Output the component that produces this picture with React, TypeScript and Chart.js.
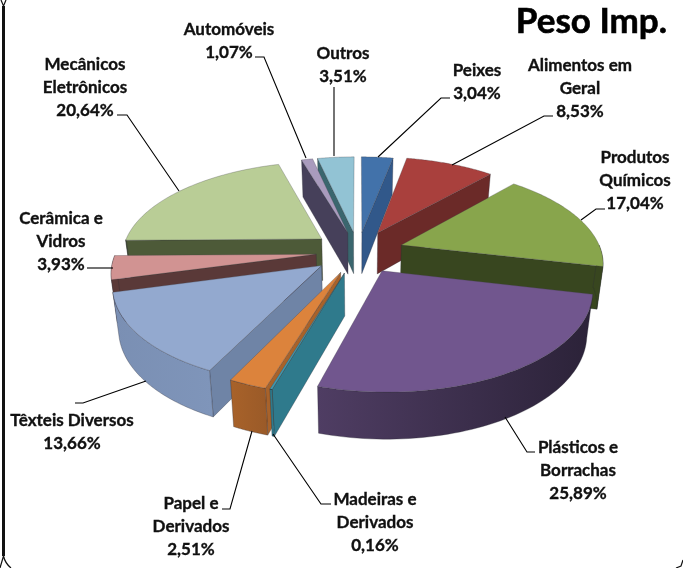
import React, { useEffect, useRef } from "react";
import { Chart, registerables } from "chart.js";

Chart.register(...registerables);

const categories = ["Peixes", "Alimentos em Geral", "Produtos Químicos", "Plásticos e Borrachas", "Madeiras e Derivados", "Papel e Derivados", "Têxteis Diversos", "Cerâmica e Vidros", "Mecânicos Eletrônicos", "Automóveis", "Outros"];
const shares = [3.04, 8.53, 17.04, 25.89, 0.16, 2.51, 13.66, 3.93, 20.64, 1.07, 3.51];
const topColors = ["#4272AA", "#A9403D", "#88A54C", "#71568E", "#3F97AF", "#DC833C", "#93A9CF", "#D19392", "#B9CD96", "#A99BBD", "#92C3D4"];
const sideColors = ["#31588A", "#6B2A28", "#38461F", "#3A2D4C", "#2F7A8C", "#A8622A", "#6F84A6", "#5A3938", "#4D5A38", "#46405A", "#3A666E"];
const rimLeft = ["#31588A", "#6B2A28", "#38461F", "#4F3D63", "#2F7A8C", "#A8622A", "#7A8FB3", "#5A3938", "#4D5A38", "#46405A", "#3A666E"];
const rimRight = ["#31588A", "#6B2A28", "#38461F", "#2B2238", "#2F7A8C", "#9A5A28", "#7F95BA", "#5A3938", "#4D5A38", "#46405A", "#3A666E"];
const explode = [42, 46, 46, 46, 46, 46, 46, 42, 46, 42, 42];

const title = "Peso Imp.";
const labels: { lines: string[]; x: number; y: number }[] = [
  { lines: ["Peixes", "3,04%"], x: 477, y: 71 },
  { lines: ["Alimentos em", "Geral", "8,53%"], x: 580, y: 66 },
  { lines: ["Produtos", "Químicos", "17,04%"], x: 635, y: 158 },
  { lines: ["Plásticos e", "Borrachas", "25,89%"], x: 578, y: 448 },
  { lines: ["Madeiras e", "Derivados", "0,16%"], x: 375, y: 500 },
  { lines: ["Papel e", "Derivados", "2,51%"], x: 191, y: 504 },
  { lines: ["Têxteis Diversos", "13,66%"], x: 72, y: 421 },
  { lines: ["Cerâmica e", "Vidros", "3,93%"], x: 61, y: 219 },
  { lines: ["Mecânicos", "Eletrônicos", "20,64%"], x: 85, y: 65 },
  { lines: ["Automóveis", "1,07%"], x: 229, y: 30 },
  { lines: ["Outros", "3,51%"], x: 343, y: 54 },
];
const leaders: number[][] = [
  [450, 98, 441, 98, 378, 157],
  [553, 116, 544, 116, 452, 165],
  [605, 209, 596, 209, 581, 220],
  [535, 452, 527, 452, 505, 417],
  [331, 504, 321, 504, 273, 434],
  [222, 509, 230, 509, 252, 431],
  [75, 403, 83, 403, 146, 381],
  [87, 268, 113, 268],
  [117, 115, 127, 115, 179, 191],
  [255, 57, 264, 57, 306, 158],
  [334, 87, 334, 156],
];

const ySquash = 0.47;
const persp = 0.166;
const depth = 42;

const pie3d = {
  id: "pie3d",
  beforeDatasetsDraw(chart: any) {
    const ctx: CanvasRenderingContext2D = chart.ctx;
    const arcs: any[] = chart.getDatasetMeta(0).data;
    const face = (a: any) => {
      const R = a.outerRadius;
      const mid = (a.startAngle + a.endAngle) / 2 + Math.PI / 2;
      const ou = (Math.sin(mid) * a.options.offset) / R;
      const ov = (-Math.cos(mid) * a.options.offset) / R;
      // (r, th, z): th is clockwise from 12 o'clock
      return (r: number, th: number, z: number): [number, number] => {
        const u = r * Math.sin(th) + ou;
        const v = -r * Math.cos(th) + ov;
        const s = 1 / (1 - persp * v);
        return [
          a.x + R * u * s * (1 - 0.025 * z),
          a.y + R * ySquash * v * s + depth * z * (1 + 0.1 * v),
        ];
      };
    };
    const poly = (pts: [number, number][], fill: any, stroke: string) => {
      ctx.beginPath();
      pts.forEach((p, i) => (i ? ctx.lineTo(p[0], p[1]) : ctx.moveTo(p[0], p[1])));
      ctx.closePath();
      ctx.fillStyle = fill;
      ctx.fill();
      ctx.strokeStyle = stroke;
      ctx.lineWidth = 0.7;
      ctx.stroke();
    };
    const order = arcs
      .map((a, i) => ({ a, i, key: -Math.cos((a.startAngle + a.endAngle) / 2 + Math.PI / 2) }))
      .sort((p, q) => p.key - q.key);
    for (const { a, i } of order) {
      const P = face(a);
      const th0 = a.startAngle + Math.PI / 2;
      const th1 = a.endAngle + Math.PI / 2;
      const side = sideColors[i];
      const edge = "rgba(40,40,50,0.45)";
      if (Math.sin(th0) < 0) poly([P(0, 0, 0), P(1, th0, 0), P(1, th0, 1), P(0, 0, 1)], side, edge);
      if (Math.sin(th1) > 0) poly([P(0, 0, 0), P(1, th1, 0), P(1, th1, 1), P(0, 0, 1)], side, edge);
      const lo = Math.max(th0, Math.PI / 2);
      const hi = Math.min(th1, (3 * Math.PI) / 2);
      if (hi > lo) {
        const top: [number, number][] = [];
        const bot: [number, number][] = [];
        const n = 60;
        for (let k = 0; k <= n; k++) {
          const t = lo + ((hi - lo) * k) / n;
          top.push(P(1, t, 0));
          bot.push(P(1, t, 1));
        }
        const xs = top.concat(bot).map((p) => p[0]);
        const g = ctx.createLinearGradient(Math.min(...xs), 0, Math.max(...xs), 0);
        g.addColorStop(0, rimLeft[i]);
        g.addColorStop(1, rimRight[i]);
        poly(top.concat(bot.reverse()), g, edge);
      }
      const pts: [number, number][] = [P(0, 0, 0)];
      for (let k = 0; k <= 60; k++) pts.push(P(1, th0 + ((th1 - th0) * k) / 60, 0));
      poly(pts, a.options.backgroundColor, "rgba(60,60,70,0.4)");
    }
    return false;
  },
  afterDraw(chart: any) {
    const ctx: CanvasRenderingContext2D = chart.ctx;
    ctx.save();
    // outer frame of the picture
    ctx.strokeStyle = "#111";
    ctx.lineWidth = 3;
    ctx.beginPath();
    ctx.moveTo(3.5, 6);
    ctx.lineTo(3.5, 556);
    ctx.stroke();
    ctx.lineWidth = 1.2;
    ctx.beginPath();
    ctx.moveTo(1, 0);
    ctx.lineTo(3.5, 6);
    ctx.lineTo(6, 0);
    ctx.moveTo(0, 568);
    ctx.lineTo(3.5, 556);
    ctx.quadraticCurveTo(5, 563, 11, 568);
    ctx.moveTo(676, 568);
    ctx.lineTo(681, 566);
    ctx.lineTo(683, 560);
    ctx.stroke();
    // leader lines
    ctx.strokeStyle = "#000";
    ctx.lineWidth = 1.1;
    for (const l of leaders) {
      ctx.beginPath();
      ctx.moveTo(l[0], l[1]);
      for (let k = 2; k < l.length; k += 2) ctx.lineTo(l[k], l[k + 1]);
      ctx.stroke();
    }
    ctx.fillStyle = "#111";
    ctx.strokeStyle = "#111";
    ctx.lineWidth = 0.35;
    ctx.textAlign = "center";
    ctx.textBaseline = "middle";
    ctx.font = "bold 17px Lato";
    for (const l of labels) {
      l.lines.forEach((t, k) => {
        ctx.fillText(t, l.x, l.y + k * 23);
        ctx.strokeText(t, l.x, l.y + k * 23);
      });
    }
    ctx.textAlign = "right";
    ctx.textBaseline = "alphabetic";
    ctx.font = "bold 35px Lato";
    ctx.fillStyle = "#000";
    ctx.strokeStyle = "#000";
    ctx.lineWidth = 0.6;
    ctx.fillText(title, 667, 33);
    ctx.strokeText(title, 667, 33);
    ctx.restore();
  },
};

export default function App() {
  const ref = useRef<HTMLCanvasElement>(null);
  useEffect(() => {
    document.body.style.margin = "0";
    const chart = new Chart(ref.current!, {
      type: "pie",
      data: {
        labels: categories,
        datasets: [{ data: shares, backgroundColor: topColors, offset: explode, borderWidth: 0 }],
      },
      options: {
        animation: false,
        responsive: false,
        radius: 200,
        layout: { padding: { left: 33, bottom: 65 } },
        plugins: { legend: { display: false }, tooltip: { enabled: false } },
      } as any,
      plugins: [pie3d],
    });
    return () => chart.destroy();
  }, []);
  return <canvas ref={ref} width={683} height={568} style={{ display: "block", background: "#fff" }} />;
}
